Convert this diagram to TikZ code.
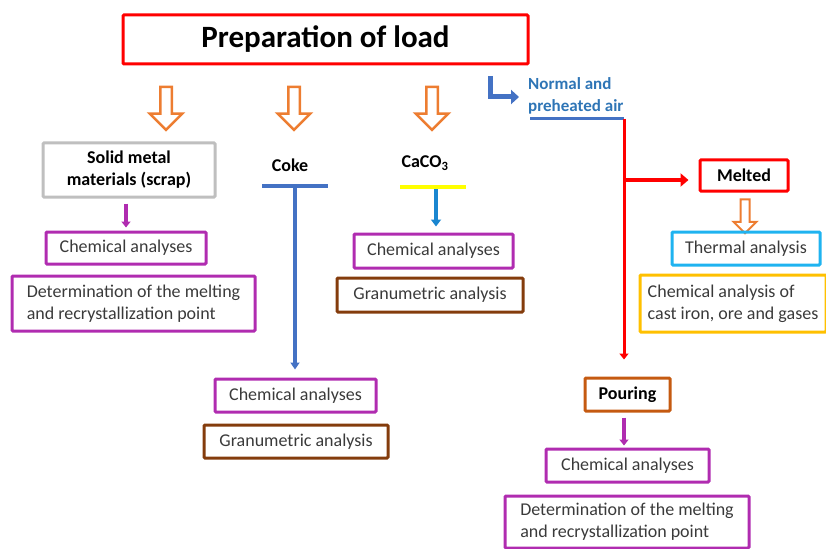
\documentclass[tikz,border=0pt]{standalone}
\usepackage{fontspec}
\setmainfont{Carlito}
\usetikzlibrary{arrows.meta,positioning,shapes.arrows,calc}
\definecolor{LoadRed}{HTML}{FF0000}
\definecolor{LoadOrange}{HTML}{ED7D31}
\definecolor{LoadPurple}{HTML}{B02CB0}
\definecolor{LoadBrown}{HTML}{843C0C}
\definecolor{PourBrown}{HTML}{C55A11}
\definecolor{LoadBlue}{HTML}{4472C4}
\definecolor{AirBlue}{HTML}{2E75B6}
\definecolor{CaBlue}{HTML}{1A86D0}
\definecolor{LoadCyan}{HTML}{1FB3F0}
\definecolor{LoadGold}{HTML}{FFC000}
\definecolor{LoadGray}{HTML}{BFBFBF}
\definecolor{LoadYellow}{HTML}{FFFF00}
\definecolor{TextGray}{HTML}{3A3A3A}
\tikzset{
  analysis box/.style={draw=LoadPurple,line width=3pt,rounded corners=1pt,align=center,
    inner sep=0pt,text=TextGray,font=\fontsize{18}{22}\selectfont},
  granu box/.style={analysis box,draw=LoadBrown},
  stage box/.style={analysis box,text=black,font=\fontsize{18}{22}\selectfont\bfseries},
  hollow arrow/.style={single arrow,draw=LoadOrange,line width=2.5pt,rotate=-90,
    inner xsep=0pt,inner ysep=4.5pt,minimum height=43pt,single arrow head extend=10.5pt},
  feed arrow/.style={-{Triangle[length=6pt,width=9pt]},draw=LoadPurple,line width=4pt},
  red arrow/.style={-{Triangle[length=8pt,width=13pt]},draw=LoadRed,line width=3.5pt}
}
\begin{document}
\begin{tikzpicture}[x=1pt,y=-1pt]
  \useasboundingbox (0,0) rectangle (826,548);
  \node[stage box,draw=LoadRed,minimum width=405pt,minimum height=49pt,
    font=\fontsize{31}{36}\selectfont\bfseries] (load) at (325.5,39.5) {Preparation of load};
  \foreach \x/\name in {166/h1,294/h2,432/h3}{
    \node[hollow arrow] (\name) at (\x,105.5) {};
  }
  % solid charge
  \node[stage box,draw=LoadGray,minimum width=172pt,minimum height=54pt] (scrap) at (129,170)
    {Solid metal\\materials (scrap)};
  \node[analysis box,minimum width=160pt,minimum height=32pt] (chem1) at (126,248) {Chemical analyses};
  \node[analysis box,align=left,minimum width=243pt,minimum height=55pt] (det1) at (133.5,303.5)
    {Determination of the melting\\and recrystallization point};
  \draw[feed arrow,shorten <=5pt,shorten >=3pt] (scrap.south -| chem1.north) -- (chem1.north);
  % coke
  \node[font=\fontsize{18}{22}\selectfont\bfseries] (coke) at (290,165) {Coke};
  \coordinate (cokebar) at (295,186);
  \draw[LoadBlue,line width=4pt] ($(cokebar)+(-33,0)$) -- ($(cokebar)+(33,0)$);
  \node[analysis box,minimum width=161pt,minimum height=33pt] (chem2) at (295.5,395.5) {Chemical analyses};
  \node[granu box,minimum width=184pt,minimum height=33pt] (gran2) at (296,441.5) {Granumetric analysis};
  \draw[-{Triangle[length=7pt,width=9pt]},LoadBlue,line width=3.5pt,shorten >=8pt] (cokebar) -- (chem2.north -| cokebar);
  % limestone
  \node[font=\fontsize{18}{22}\selectfont\bfseries] (caco) at (425,163) {CaCO\textsubscript{3}};
  \coordinate (cacobar) at (433,187);
  \draw[LoadYellow,line width=4pt] ($(cacobar)+(-33,0)$) -- ($(cacobar)+(33,0)$);
  \node[analysis box,minimum width=159pt,minimum height=34pt] (chem3) at (433.5,251) {Chemical analyses};
  \node[granu box,minimum width=186pt,minimum height=34pt] (gran3) at (430,295) {Granumetric analysis};
  \draw[-{Triangle[length=7pt,width=10pt]},CaBlue,line width=4pt,shorten <=2pt,shorten >=6pt]
    ($(cacobar)+(3,0)$) -- (chem3.north -| 436,0);
  % air and melting
  \coordinate (airstart) at (490,76);
  \node[anchor=west,align=left,text=AirBlue,inner sep=0pt,font=\fontsize{17}{22}\selectfont\bfseries]
    (air) at (528,96) {Normal and\\preheated air};
  \draw[-{Triangle[length=8pt,width=14pt]},LoadBlue,line width=5pt] (airstart) |- ($(air.west)+(-9,1)$);
  \coordinate (airend) at (624,119);
  \draw[LoadBlue,line width=3pt] (530,119) -- (airend);
  \coordinate (split) at (624,180);
  \node[stage box,draw=LoadRed,minimum width=88pt,minimum height=31pt] (melted) at (744,175.5) {Melted};
  \node[hollow arrow,line width=2pt,inner ysep=3.5pt,minimum height=34pt,single arrow head extend=7pt]
    (h4) at (745,214) {};
  \node[analysis box,draw=LoadCyan,minimum width=148pt,minimum height=33pt] (thermal) at (746,248.5) {Thermal analysis};
  \node[analysis box,draw=LoadGold,align=left,minimum width=186pt,minimum height=57pt] (castiron) at (733,303.5)
    {Chemical analysis of\\cast iron, ore and gases};
  \node[stage box,draw=PourBrown,minimum width=85pt,minimum height=33pt] (pouring) at (627.5,394.5) {Pouring};
  \draw[red arrow,line width=3pt,-{Triangle[length=6pt,width=9pt]},shorten >=17pt] (airend) -- (pouring.north -| airend);
  \draw[red arrow,shorten >=10pt] (split) -- (split -| melted.west);
  \node[analysis box,minimum width=163pt,minimum height=33pt] (chem4) at (627.5,465.5) {Chemical analyses};
  \node[analysis box,align=left,minimum width=244pt,minimum height=52pt] (det4) at (627,522)
    {Determination of the melting\\and recrystallization point};
  \draw[feed arrow,shorten <=5pt,shorten >=2pt] (pouring.south -| airend) -- (chem4.north -| airend);
\end{tikzpicture}
\end{document}
